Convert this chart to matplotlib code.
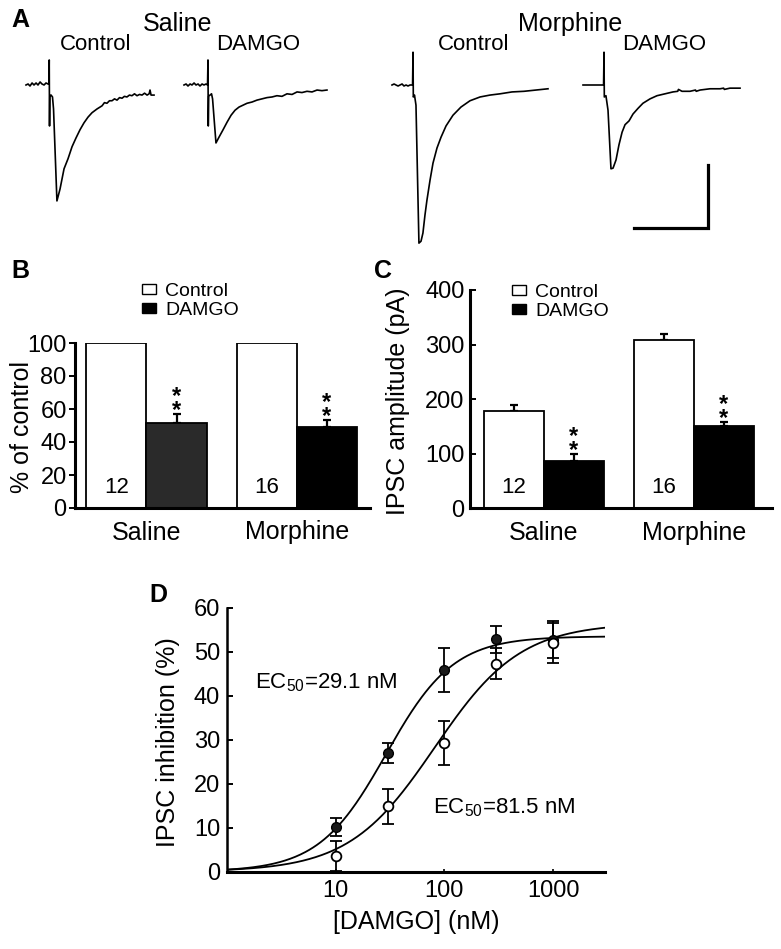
import numpy as np
import matplotlib
matplotlib.use('Agg')
import matplotlib.pyplot as plt
from matplotlib.patches import Patch

plt.rcParams['font.family'] = ['Liberation Sans', 'DejaVu Sans']
plt.rcParams['mathtext.fontset'] = 'custom'
plt.rcParams['mathtext.rm'] = 'Liberation Sans'

W, H = 781, 949

# ---- A: example IPSC traces (ms, pA relative to baseline) ----
sal_ctrl_t = [0, 1.4, 2.7, 4.1, 5.4, 6.8, 8.1, 9.5, 10.8, 12.2, 13.5, 14.9, 15.5, 15.7, 15.9, 16.1, 16.9, 17.9, 18.6, 20.9,
              23.0, 25.7, 28.4, 31.1, 33.8, 36.5, 39.2, 41.9, 44.6, 48.0, 51.4, 53.0, 54.7, 56.4, 58.1, 59.8, 61.5, 63.2, 64.9, 66.5,
              68.2, 69.9, 71.6, 73.3, 75.0, 76.7, 78.4, 80.1, 81.8, 83.2, 83.8, 84.5, 86.5]
sal_ctrl_i = [0, 1.6, -1.6, 3.2, 0, 3.2, 0, 4.8, 1.6, 0, 3.2, 1.6, 1.6, 39.7, -65, -17.5, -15.9, -19, -38, -184,
              -165, -133, -117, -98, -84, -71, -60, -51, -44, -38, -33, -28, -29, -25, -25, -22, -24, -20, -21, -18,
              -19, -16, -17, -14, -17, -15, -16, -13, -16, -14, -8, -16, -16]

sal_dam_t = [0, 1.4, 2.7, 4.1, 5.4, 6.8, 8.1, 9.5, 10.8, 12.2, 13.5, 14.9, 15.9, 16.2, 16.4, 16.7, 17.6, 18.6, 19.3, 21.6,
             23.6, 26.4, 29.1, 31.8, 34.5, 37.2, 39.9, 42.6, 46.0, 49.3, 52.7, 56.1, 59.5, 62.8, 66.2, 69.6, 73.0, 76.4, 79.7, 83.1,
             86.5, 89.9, 93.2, 96.6]
sal_dam_i = [0, 1.6, -1.6, 1.6, 0, 3.2, 0, 1.6, -1.6, 1.6, 0, 1.6, 0, 39.7, -65, -17.5, -16, -14, -22, -92,
             -83, -71, -59, -48, -40, -35, -32, -29, -27, -24, -22, -20, -19, -17, -18, -14, -15, -11, -12, -10,
             -11, -8, -9, -8]

mor_ctrl_t = [0, 1.4, 2.7, 4.1, 5.4, 6.8, 8.1, 9.5, 10.8, 12.2, 13.9, 14.2, 14.4, 15.2, 16.2, 18.2, 19.6, 20.9, 22.3, 23.6,
              25.7, 27.7, 30.4, 33.1, 36.5, 41.2, 46.6, 52.7, 59.5, 66.2, 73.0, 81.1, 89.2, 97.3, 105.4]
mor_ctrl_i = [0, 1.6, 0, -1.6, 0, 1.6, -1.6, 0, -1.6, 0, 0, 52, -19, -16, -32, -251, -248, -235, -206, -183,
              -151, -124, -100, -83, -65, -48, -35, -25, -19, -16, -14, -11, -10, -8, -6]

mor_dam_t = [0, 13.9, 14.2, 14.4, 15.5, 16.9, 18.9, 20.3, 22.3, 24.3, 26.4, 28.4, 31.1, 33.8, 37.2, 40.5, 45.3, 50.0, 55.4, 60.8,
             64.0, 64.5, 66.9, 72.3, 76.0, 76.5, 79.1, 85.8, 92.6, 95.0, 95.5, 99.3, 106.1]
mor_dam_i = [0, 0, 52, -19, -17, -40, -133, -132, -119, -95, -75, -63, -57, -46, -37, -29, -22, -17, -14, -11,
             -10, -7, -10, -10, -8, -10, -8, -6, -6, -5, -7, -5, -5]

scale_ms, scale_pa = 50, 100

# ---- B / C: bar data ----
groups = ['Saline', 'Morphine']
n_cells = ['12', '16']
pct_ctrl = [100, 100]
pct_damgo = [51.7, 48.9]
pct_damgo_err = [5.1, 4.4]
amp_ctrl = [178, 308]
amp_ctrl_err = [11, 11]
amp_damgo = [87, 150]
amp_damgo_err = [13, 9]

# ---- D: concentration-response ----
dose = [10, 30, 100, 300, 1000]
inh_sal = [10.2, 26.9, 45.8, 52.8, 52.7]
inh_sal_err = [2.0, 2.3, 5.0, 3.0, 4.2]
inh_mor = [3.6, 14.9, 29.3, 47.3, 52.0]
inh_mor_err = [3.4, 4.0, 5.0, 3.6, 4.6]
ec50_sal, emax_sal, nh_sal = 29.1, 53.5, 1.4
ec50_mor, emax_mor, nh_mor = 81.5, 56.5, 1.1


def rect(x0, y0, x1, y1):
    return [x0 / W, 1 - y1 / H, (x1 - x0) / W, (y1 - y0) / H]


fig = plt.figure(figsize=(W / 100, H / 100), dpi=100)

# ================= A =================
px_ms, px_pa = 1.48, 0.63
axA = fig.add_axes([0, 1 - 260 / H, 1, 260 / H])
axA.set_xlim(0, W / px_ms)
axA.set_ylim(-(260 - 85) / px_pa, 85 / px_pa)
axA.axis('off')
traces = [(sal_ctrl_t, sal_ctrl_i, 26), (sal_dam_t, sal_dam_i, 184),
          (mor_ctrl_t, mor_ctrl_i, 392), (mor_dam_t, mor_dam_i, 583)]
for t, i, x0 in traces:
    axA.plot(np.array(t) + x0 / px_ms, i, color='black', lw=1.2)
cx, cy = 708 / px_ms, -(228 - 85) / px_pa
axA.plot([cx - scale_ms, cx, cx], [cy, cy, cy + scale_pa], color='black', lw=2.3,
         solid_joinstyle='miter')

fig.text(11 / W, 1 - 20 / H, 'A', fontsize=18, fontweight='bold', va='center')
fig.text(178 / W, 1 - 24 / H, 'Saline', fontsize=18, ha='center', va='center')
fig.text(570 / W, 1 - 24 / H, 'Morphine', fontsize=18, ha='center', va='center')
for x, s in [(96, 'Control'), (258, 'DAMGO'), (474, 'Control'), (664, 'DAMGO')]:
    fig.text(x / W, 1 - 45 / H, s, fontsize=16, ha='center', va='center')

# ================= B & C =================
xc = np.array([0, 2.5])
handles = [Patch(facecolor='white', edgecolor='black', lw=1), Patch(facecolor='black', edgecolor='black')]


def bar_panel(ax, ctrl, ctrl_err, damgo, damgo_err, damgo_colors, ymax, yticks, n_y, star_gap, tickdir):
    ax.bar(xc, ctrl, width=1, color='white', edgecolor='black', lw=1.3, zorder=2)
    ax.bar(xc + 1, damgo, width=1, color=damgo_colors, edgecolor='black', lw=1.3, zorder=2)
    if ctrl_err is not None:
        ax.errorbar(xc, ctrl, yerr=[np.zeros(2), ctrl_err], fmt='none', ecolor='black',
                    elinewidth=1.6, capsize=3, capthick=1.6, zorder=1)
    ax.errorbar(xc + 1, damgo, yerr=[np.zeros(2), damgo_err], fmt='none', ecolor='black',
                elinewidth=1.6, capsize=3, capthick=1.6, zorder=1)
    for k in range(2):
        top = damgo[k] + damgo_err[k]
        ax.text(xc[k] + 1, top + star_gap, '*\n*', fontsize=17, fontweight='bold', ha='center',
                va='center', linespacing=0.5)
        ax.text(xc[k], n_y, n_cells[k], fontsize=16, ha='center', va='center')
    ax.set_ylim(0, ymax)
    ax.set_yticks(yticks)
    ax.set_xticks(xc + 0.5)
    ax.set_xticklabels(groups)
    for s in ['top', 'right']:
        ax.spines[s].set_visible(False)
    for s in ['left', 'bottom']:
        ax.spines[s].set_linewidth(2.2)
    ax.tick_params(axis='y', direction=tickdir, length=4, width=1.4, labelsize=17, pad=2 if tickdir == 'out' else 4)
    ax.tick_params(axis='x', length=0, labelsize=18, pad=9)


axB = fig.add_axes(rect(75, 343, 370, 508))
axB.set_xlim(-0.69, 4.22)
bar_panel(axB, pct_ctrl, None, pct_damgo, pct_damgo_err, ['#2a2a2a', 'black'], 100,
          [0, 20, 40, 60, 80, 100], 12.5, 6.3, 'out')
axB.set_ylabel('% of control', fontsize=18)
axB.yaxis.set_label_coords(-0.14, 0.49)
axB.legend(handles, ['Control', 'DAMGO'], loc='upper left', bbox_to_anchor=(142 / W, 1 - 283 / H),
           bbox_transform=fig.transFigure, frameon=False, fontsize=14, handlelength=0.7,
           handleheight=0.45, handletextpad=0.5, labelspacing=0.1, borderpad=0, borderaxespad=0)
fig.text(11 / W, 1 - 271 / H, 'B', fontsize=18, fontweight='bold', va='center')

axC = fig.add_axes(rect(470, 290, 772, 508.3))
axC.set_xlim(-0.733, 4.3)
bar_panel(axC, amp_ctrl, amp_ctrl_err, amp_damgo, amp_damgo_err, ['black', 'black'], 400,
          [0, 100, 200, 300, 400], 39, 18, 'in')
axC.set_ylabel('IPSC amplitude (pA)', fontsize=18)
axC.yaxis.set_label_coords(-0.2, 0.49)
axC.legend(handles, ['Control', 'DAMGO'], loc='upper left', bbox_to_anchor=(512 / W, 1 - 284 / H),
           bbox_transform=fig.transFigure, frameon=False, fontsize=14, handlelength=0.7,
           handleheight=0.45, handletextpad=0.5, labelspacing=0.1, borderpad=0, borderaxespad=0)
fig.text(374 / W, 1 - 271 / H, 'C', fontsize=18, fontweight='bold', va='center')

# ================= D =================
axD = fig.add_axes(rect(227, 607.7, 605, 871.7))
xs = np.logspace(0, np.log10(3000), 300)
axD.plot(xs, emax_sal / (1 + (ec50_sal / xs) ** nh_sal), color='black', lw=1.3)
axD.plot(xs, emax_mor / (1 + (ec50_mor / xs) ** nh_mor), color='black', lw=1.3)
axD.errorbar(dose, inh_sal, yerr=inh_sal_err, fmt='o', color='black', mfc='#1a1a1a', mec='black',
             ms=7, elinewidth=1.3, capsize=4, capthick=1.3, zorder=3)
axD.errorbar(dose, inh_mor, yerr=inh_mor_err, fmt='o', color='black', mfc='white', mec='black',
             mew=1.3, ms=7, elinewidth=1.3, capsize=4, capthick=1.3, zorder=3)
axD.set_xscale('log')
axD.set_xlim(1, 3000)
axD.set_ylim(0, 60)
axD.set_yticks(range(0, 61, 10))
axD.set_xticks([10, 100, 1000])
axD.set_xticklabels(['10', '100', '1000'])
axD.minorticks_off()
for s in ['top', 'right']:
    axD.spines[s].set_visible(False)
axD.spines['left'].set_linewidth(1.8)
axD.spines['bottom'].set_linewidth(2.2)
axD.tick_params(axis='y', direction='in', length=4, width=1.4, labelsize=17, pad=5)
axD.tick_params(axis='x', direction='in', length=2.5, width=1.2, labelsize=17, pad=6)
axD.set_xlabel('[DAMGO] (nM)', fontsize=18, labelpad=6)
axD.set_ylabel('IPSC inhibition (%)', fontsize=18)
axD.yaxis.set_label_coords(-0.125, 0.49)
fig.text(255 / W, 1 - 683 / H, 'EC$_\\mathregular{50}$=29.1 nM', fontsize=16, va='center')
fig.text(433 / W, 1 - 808 / H, 'EC$_\\mathregular{50}$=81.5 nM', fontsize=16, va='center')
fig.text(149 / W, 1 - 595 / H, 'D', fontsize=18, fontweight='bold', va='center')

fig.savefig('out.png', dpi=100)
